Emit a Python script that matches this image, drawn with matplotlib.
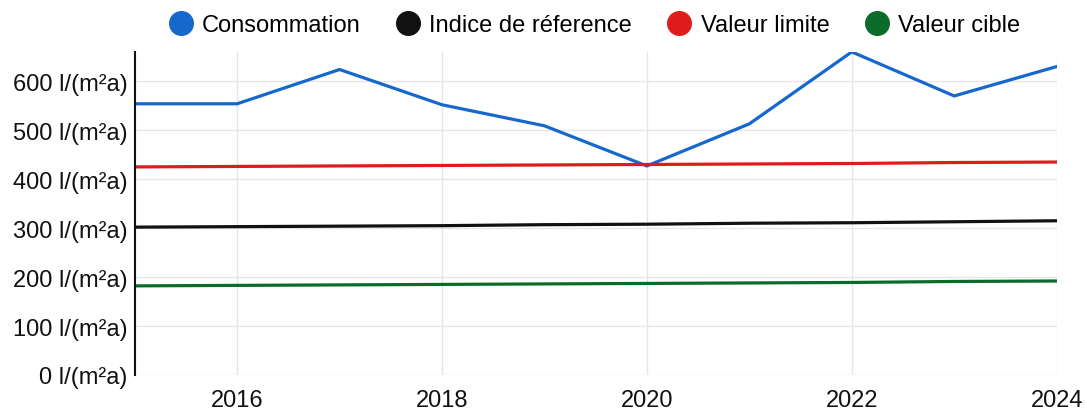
import matplotlib
matplotlib.use("Agg")
import matplotlib.pyplot as plt
from matplotlib.lines import Line2D

# data
years = [2015, 2016, 2017, 2018, 2019, 2020, 2021, 2022, 2023, 2024]
consommation = [554, 554, 624, 552, 509, 427, 513, 660, 570, 630]
indice_ref = [302, 303, 304, 305, 307, 308, 310, 311, 313, 315]
valeur_limite = [425, 426, 427, 428, 429, 430, 431, 432, 434, 435]
valeur_cible = [182, 183, 184, 185, 186, 187, 188, 189, 191, 192]

series_names = ["Consommation", "Indice de réference", "Valeur limite", "Valeur cible"]
colors = ["#1668cc", "#111111", "#e01b1b", "#0b6b2a"]

y_ticks = [0, 100, 200, 300, 400, 500, 600]
x_ticks = [2016, 2018, 2020, 2022, 2024]

plt.rcParams["font.family"] = ["Liberation Sans", "DejaVu Sans"]

fig = plt.figure(figsize=(10.86, 4.10), dpi=100)
ax = fig.add_axes([0.124, 0.083, 0.849, 0.788])

for vals, c in zip([consommation, indice_ref, valeur_limite, valeur_cible], colors):
    ax.plot(years, vals, color=c, lw=2.3, solid_joinstyle="miter")

ax.set_xlim(2015, 2024)
ax.set_ylim(0, 660)
ax.set_yticks(y_ticks)
ax.set_yticklabels([f"{v} l/(m²a)" for v in y_ticks])
ax.set_xticks(x_ticks)
ax.set_xticklabels([str(x) for x in x_ticks])
ax.tick_params(length=0, labelsize=17, colors="#111111")
ax.tick_params(axis="x", pad=10)
ax.tick_params(axis="y", pad=5)

ax.grid(True, color="#e6e6e6", lw=1)
ax.set_axisbelow(True)
for s in ["top", "right", "bottom"]:
    ax.spines[s].set_visible(False)
ax.spines["left"].set_color("#111111")
ax.spines["left"].set_linewidth(1.5)

handles = [Line2D([], [], marker="o", ls="none", markersize=17, color=c) for c in colors]
fig.legend(handles, series_names, loc="upper center", bbox_to_anchor=(0.542, 1.015),
           ncol=4, frameon=False, fontsize=17, handletextpad=-0.1, columnspacing=1.0)

fig.savefig("out.png", dpi=100)
